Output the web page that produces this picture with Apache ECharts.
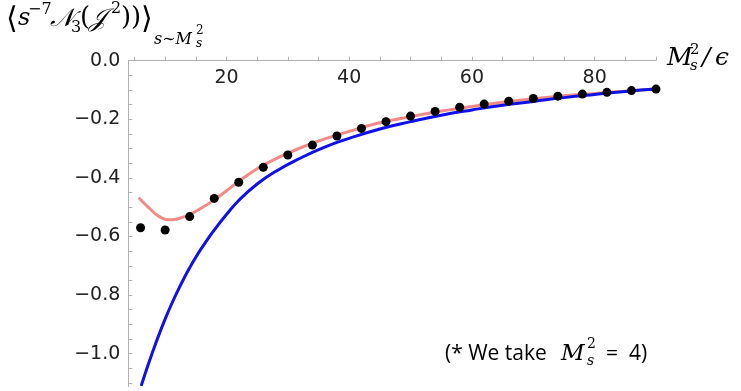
<!DOCTYPE html>
<html>
<head>
<meta charset="utf-8">
<script src="https://cdn.jsdelivr.net/npm/echarts@6/dist/echarts.min.js"></script>
<style>html,body{margin:0;padding:0;background:#fff;}#c{width:741px;height:391px;}</style>
</head>
<body>
<div id="c"></div>
<script>
// ---- data ----
const dotX = [6,10,14,18,22,26,30,34,38,42,46,50,54,58,62,66,70,74,78,82,86,90];
const dotY = [-0.570,-0.578,-0.532,-0.470,-0.415,-0.364,-0.322,-0.288,-0.257,-0.231,-0.208,-0.189,-0.173,-0.159,-0.148,-0.138,-0.129,-0.121,-0.114,-0.108,-0.102,-0.097];

const pinkX = [5.7,6.5,7.5,8.5,9.5,10.5,11.5,12.5,14,16,18,20,22,25,28,32,36,40,45,50,55,60,65,70,75,80,85,90];
const pinkY = [-0.468,-0.485,-0.505,-0.524,-0.537,-0.543,-0.542,-0.537,-0.525,-0.502,-0.475,-0.444,-0.412,-0.369,-0.335,-0.298,-0.267,-0.241,-0.212,-0.191,-0.172,-0.156,-0.142,-0.130,-0.120,-0.112,-0.104,-0.097];

const blueX = [6.1,7,8,9,10,11,12,13,14,15,16,17,18,20,22,25,28,32,36,40,45,50,55,60,65,70,75,80,85,90];
const blueY = [-1.110,-1.052,-0.992,-0.935,-0.882,-0.833,-0.788,-0.746,-0.707,-0.671,-0.638,-0.607,-0.578,-0.525,-0.477,-0.421,-0.378,-0.333,-0.295,-0.265,-0.233,-0.208,-0.186,-0.168,-0.152,-0.139,-0.126,-0.115,-0.105,-0.097];

const xTickLabels = [20,40,60,80];
const xTicks = [5,10,15,20,25,30,35,40,45,50,55,60,65,70,75,80,85,90];
const yTickLabels = [0,-0.2,-0.4,-0.6,-0.8,-1.0];
const yTicks = [];
for (let k = 0; k <= 22; k++) yTicks.push(-k * 0.05);

const pair = (xs, ys) => xs.map((x, i) => [x, ys[i]]);

const mathFont = '"DejaVu Serif", serif';
const sansFont = '"Open Sans", sans-serif';
const T = (text, x, y, size, opts) => Object.assign({
  type: 'text', x: x, y: y, z: 100,
  style: Object.assign({
    text: text, fontSize: size, fontFamily: mathFont, fontStyle: 'italic',
    fill: '#000', align: 'left', verticalAlign: 'middle'
  }, opts || {})
});
const UP = {fontStyle: 'normal'};

const chart = echarts.init(document.getElementById('c'), null, {renderer: 'canvas'});
chart.setOption({
  animation: false,
  backgroundColor: '#fff',
  grid: {left: 128.3, right: 85, top: 60.7, bottom: 4.5, containLabel: false},
  xAxis: {
    type: 'value', position: 'top', min: 4, max: 90,
    axisLine: {show: true, onZero: false, lineStyle: {color: '#b0b0b0', width: 1}},
    axisTick: {show: true, inside: false, length: 4, customValues: xTicks, lineStyle: {color: '#b0b0b0'}},
    axisLabel: {show: true, inside: true, margin: 8, customValues: xTickLabels,
      fontSize: 19, fontFamily: '"DejaVu Sans", sans-serif', color: '#222'},
    splitLine: {show: false}
  },
  yAxis: {
    type: 'value', min: -1.112, max: 0,
    axisLine: {show: true, onZero: false, lineStyle: {color: '#b0b0b0', width: 1}},
    axisTick: {show: true, inside: true, length: 4, customValues: yTicks, lineStyle: {color: '#b0b0b0'}},
    axisLabel: {show: true, margin: 8, customValues: yTickLabels,
      fontSize: 19, fontFamily: '"DejaVu Sans", sans-serif', color: '#222',
      formatter: v => (v < -1e-9 ? '\u2212' : '') + Math.abs(v).toFixed(1)},
    splitLine: {show: false}
  },
  series: [
    {type: 'line', data: pair(pinkX, pinkY), smooth: 0.4, showSymbol: false, z: 2,
      lineStyle: {color: '#f28a88', width: 3}},
    {type: 'line', data: pair(blueX, blueY), smooth: 0.5, showSymbol: false, z: 3,
      lineStyle: {color: '#1010e8', width: 3}},
    {type: 'scatter', data: pair(dotX, dotY), symbolSize: 9, z: 4,
      itemStyle: {color: '#000', opacity: 1}}
  ],
  graphic: [
    // title  <s^-7 N_3(J^2))>_{s~M_s^2}
    T('\u27E8', 6, 20, 30, UP),
    T('s', 18, 19, 24),
    T('\u22127', 28, 10, 16, UP),
    T('\uD835\uDCA9', 50, 19, 25),
    T('3', 71, 28, 16, UP),
    T('(', 80, 18, 26, UP),
    T('\uD835\uDCA5', 89, 19, 25),
    T('2', 111, 9, 16, UP),
    T(')', 121, 18, 26, UP),
    T(')', 131, 18, 26, UP),
    T('\u27E9', 141, 20, 30, UP),
    T('s\u223CM', 154, 40, 16),
    T('2', 196, 31, 12, UP),
    T('s', 196, 44, 12),
    // axis label M_s^2 / eps
    T('M', 667, 58, 25),
    T('2', 690, 50, 15, UP),
    T('s', 690, 66, 15),
    T('/', 702, 58, 25),
    T('\u03F5', 715, 58, 25),
    // note
    T('(* We take', 445, 354, 21, {fontStyle: 'normal', fontFamily: sansFont}),
    T('M', 561, 354, 23),
    T('2', 587, 344, 14, UP),
    T('s', 587, 361, 14),
    T('=', 606, 354, 21, {fontStyle: 'normal', fontFamily: sansFont}),
    T('4)', 629, 354, 21, {fontStyle: 'normal', fontFamily: sansFont})
  ]
});
</script>
</body>
</html>
